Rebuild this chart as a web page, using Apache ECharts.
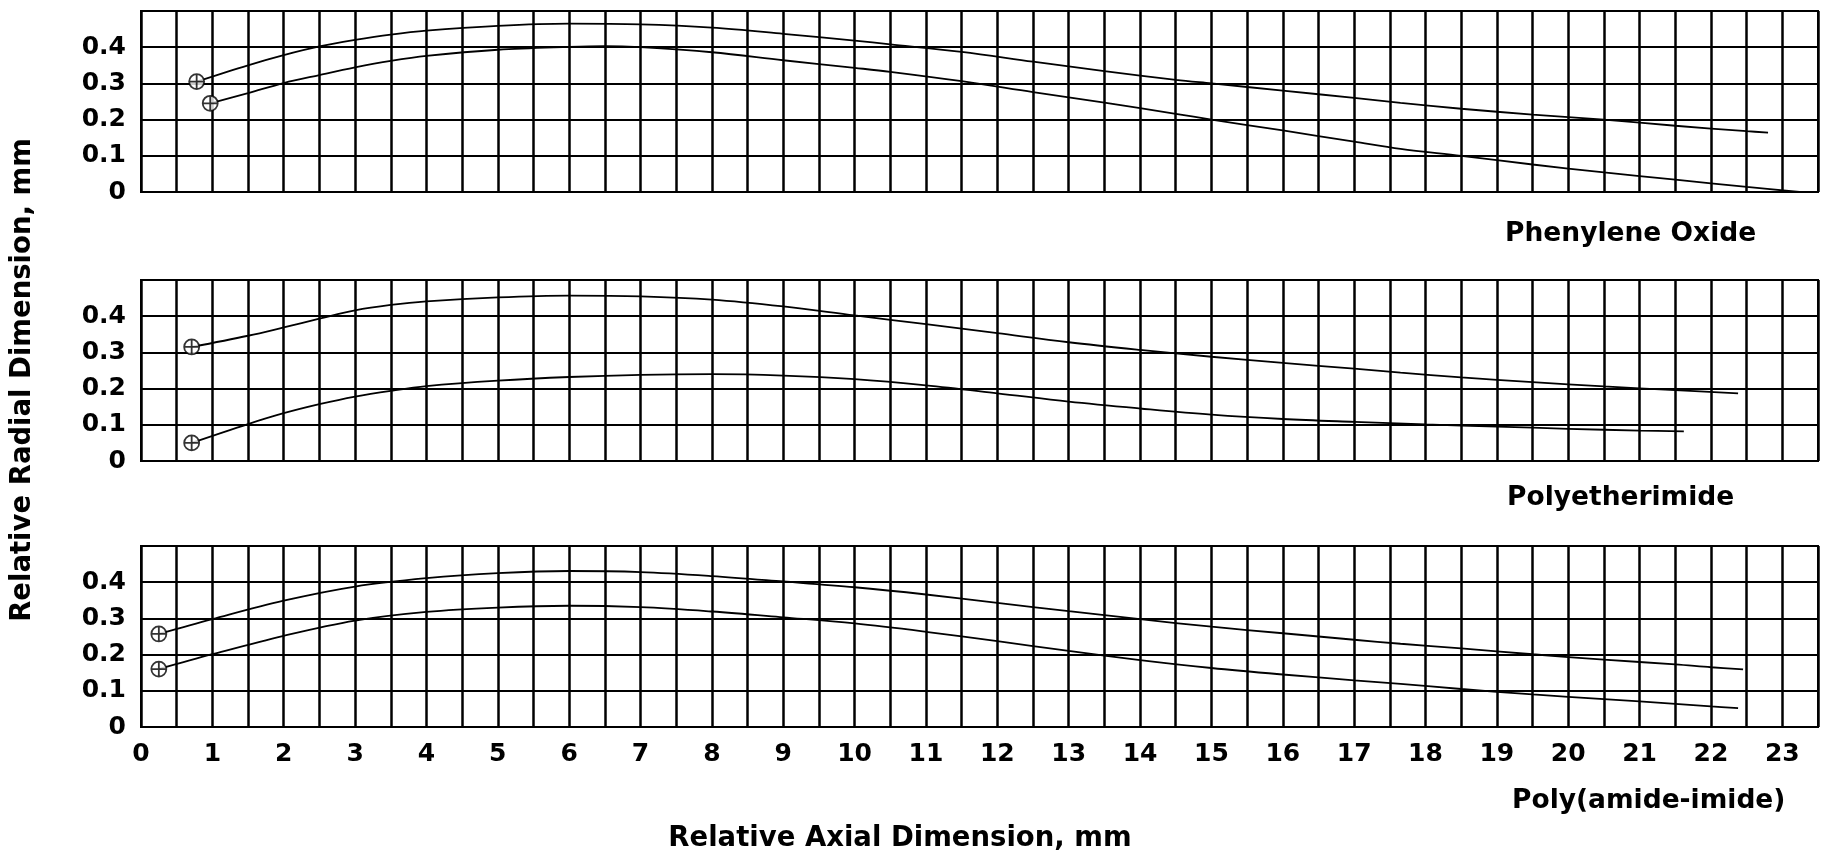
<!DOCTYPE html>
<html>
<head>
<meta charset="utf-8">
<script src="https://cdn.jsdelivr.net/npm/echarts@6/dist/echarts.min.js"></script>
<style>
html,body{margin:0;padding:0;background:#fff;}
#chart{width:1828px;height:861px;}
</style>
</head>
<body>
<div id="chart"></div>
<script>
// ---- Data ----
const xTicks = [0,1,2,3,4,5,6,7,8,9,10,11,12,13,14,15,16,17,18,19,20,21,22,23];
const yTicks = [0, 0.1, 0.2, 0.3, 0.4];
const panelNames = ['Phenylene Oxide', 'Polyetherimide', 'Poly(amide-imide)'];
const xTitle = 'Relative Axial Dimension, mm';
const yTitle = 'Relative Radial Dimension, mm';

const phenyleneUpper = [[0.78,0.305],[1.5,0.35],[2,0.378],[2.5,0.402],[3,0.42],[3.5,0.435],[4,0.446],[5,0.459],[6,0.465],[7,0.463],[8,0.454],[9,0.437],[10,0.418],[10.5,0.408],[11.5,0.387],[12.5,0.36],[13.5,0.334],[14.5,0.31],[15,0.3],[16,0.28],[17,0.26],[17.65,0.246],[18.5,0.23],[19.5,0.214],[20.5,0.2],[21.5,0.183],[22.5,0.168],[22.8,0.164]];
const phenyleneLower = [[0.97,0.245],[1.5,0.273],[2,0.301],[2.5,0.323],[3,0.344],[3.5,0.362],[4,0.376],[5,0.393],[6,0.401],[6.5,0.403],[7,0.4],[8,0.386],[9,0.364],[10,0.343],[10.5,0.332],[11.5,0.306],[12.5,0.276],[13.5,0.247],[14.5,0.216],[15,0.2],[16,0.17],[17,0.139],[17.65,0.119],[18.5,0.1],[19.5,0.076],[20.5,0.054],[21.5,0.034],[22.5,0.014],[23.24,0.0]];

const polyetherUpper = [[0.71,0.315],[1.5,0.346],[2,0.369],[2.5,0.393],[3,0.416],[3.5,0.431],[4,0.441],[5,0.452],[6,0.457],[7,0.455],[8,0.446],[9,0.427],[10,0.402],[11,0.378],[12,0.353],[13,0.328],[14,0.307],[15,0.288],[16,0.271],[17,0.255],[17.65,0.244],[18.5,0.231],[19.5,0.218],[20.5,0.206],[21.5,0.196],[22.38,0.187]];
const polyetherLower = [[0.71,0.05],[1.5,0.102],[2,0.132],[2.5,0.157],[3,0.178],[3.5,0.194],[4,0.207],[5,0.222],[6,0.232],[7,0.238],[8,0.24],[9,0.236],[10,0.226],[11,0.209],[12,0.187],[13,0.164],[14,0.145],[15,0.128],[16,0.116],[17,0.108],[18,0.101],[19,0.095],[20,0.089],[21,0.084],[21.62,0.082]];

const amideUpper = [[0.25,0.257],[1,0.298],[2,0.349],[3,0.388],[4,0.411],[5,0.425],[6,0.431],[7,0.428],[8,0.417],[9,0.402],[10,0.386],[11,0.366],[12,0.343],[13,0.32],[14,0.298],[15,0.277],[16,0.259],[17,0.241],[17.65,0.23],[18.5,0.217],[19.5,0.201],[20.5,0.186],[21.5,0.173],[22,0.165],[22.45,0.159]];
const amideLower = [[0.25,0.16],[1,0.201],[2,0.252],[3,0.294],[4,0.318],[5,0.33],[6,0.335],[7,0.331],[8,0.319],[9,0.303],[10,0.286],[11,0.263],[12,0.237],[13,0.21],[14,0.185],[15,0.163],[16,0.145],[17,0.129],[17.65,0.119],[18.5,0.105],[19.5,0.09],[20.5,0.077],[21.5,0.064],[22,0.057],[22.38,0.052]];

const panelSeries = [
  [phenyleneUpper, phenyleneLower],
  [polyetherUpper, polyetherLower],
  [amideUpper, amideLower]
];

// ---- Layout / style ----
const FONT = 'DejaVu Sans';
const gridLeft = 141, gridWidth = 1677, gridHeight = 181;
const gridTops = [11, 280, 546];
const labelPos = [[1505, 234], [1507, 498], [1512, 801]];
const markerPath = 'path://M10,0 A10,10 0 1,1 10,20 A10,10 0 1,1 10,0 Z M0,10 L20,10 M10,0 L10,20';

const grids = [], xAxes = [], yAxes = [], series = [];
gridTops.forEach((top, i) => {
  grids.push({left: gridLeft, top: top, width: gridWidth, height: gridHeight,
    show: true, borderColor: '#000', borderWidth: 2, backgroundColor: 'transparent'});
  xAxes.push({
    type: 'value', gridIndex: i, min: 0, max: 23.5, interval: 0.5,
    axisLine: {show: false}, axisTick: {show: false},
    splitLine: {show: true, lineStyle: {color: '#000', width: 2.5}},
    axisLabel: {
      show: i === 2, margin: 15, color: '#000', fontFamily: FONT, fontWeight: 'bold', fontSize: 25,
      formatter: v => (xTicks.indexOf(v) >= 0 ? String(v) : '')
    }
  });
  yAxes.push({
    type: 'value', gridIndex: i, min: 0, max: 0.5, interval: 0.1,
    axisLine: {show: false}, axisTick: {show: false},
    splitLine: {show: true, lineStyle: {color: '#000', width: 2}},
    axisLabel: {
      margin: 15, color: '#000', fontFamily: FONT, fontWeight: 'bold', fontSize: 25,
      formatter: v => {
        const t = yTicks.find(y => Math.abs(y - v) < 1e-9);
        if (t === undefined) return '';
        return t === 0 ? '0' : t.toFixed(1);
      }
    }
  });
  panelSeries[i].forEach(data => {
    series.push({
      type: 'line', xAxisIndex: i, yAxisIndex: i, data: data,
      smooth: 0.35, symbol: 'none', silent: true, z: 3,
      lineStyle: {color: '#000', width: 1.8}
    });
    series.push({
      type: 'scatter', xAxisIndex: i, yAxisIndex: i, data: [data[0]],
      symbol: markerPath, symbolSize: 15, silent: true, z: 5,
      itemStyle: {color: '#fff', borderColor: '#000', borderWidth: 1.8}
    });
  });
});

const graphics = panelNames.map((name, i) => ({
  type: 'text', x: labelPos[i][0], y: labelPos[i][1],
  style: {text: name, fill: '#000', font: 'bold 26.5px "' + FONT + '"', align: 'left', verticalAlign: 'middle'}
}));
graphics.push({
  type: 'text', x: 900, y: 839,
  style: {text: xTitle, fill: '#000', font: 'bold 27.5px "' + FONT + '"', align: 'center', verticalAlign: 'middle'}
});
graphics.push({
  type: 'text', x: 23, y: 380, rotation: Math.PI / 2,
  style: {text: yTitle, fill: '#000', font: 'bold 27.5px "' + FONT + '"', align: 'center', verticalAlign: 'middle'}
});

const chart = echarts.init(document.getElementById('chart'), null, {renderer: 'canvas'});
chart.setOption({
  animation: false,
  backgroundColor: '#fff',
  grid: grids, xAxis: xAxes, yAxis: yAxes, series: series,
  graphic: graphics
});
</script>
</body>
</html>
